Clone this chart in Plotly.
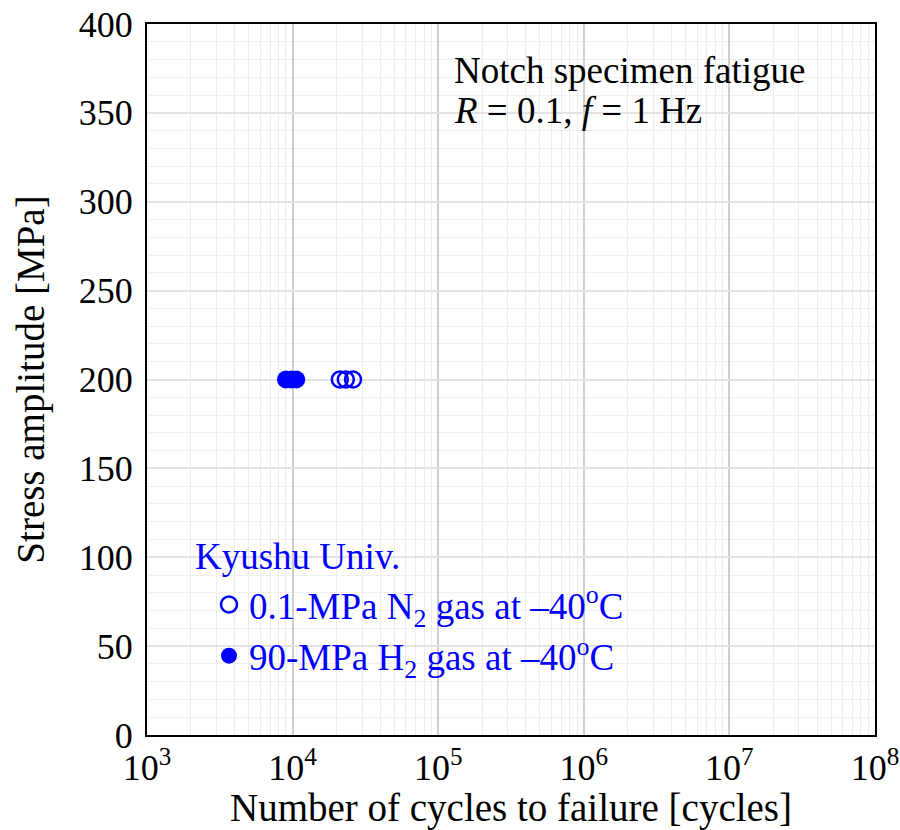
import plotly.graph_objects as go

# ---- data ----
n2_cycles = [21100, 23200, 26000]
n2_stress = [200, 200, 200]
h2_cycles = [9000, 9800, 10600]
h2_stress = [200, 200, 200]

n2_label = "0.1-MPa N<sub>2</sub> gas at –40<sup>o</sup>C"
h2_label = "90-MPa H<sub>2</sub> gas at –40<sup>o</sup>C"
legend_title = "Kyushu Univ."
x_tickvals = [1e3, 1e4, 1e5, 1e6, 1e7, 1e8]
x_ticktext = ["10<sup>3</sup>", "10<sup>4</sup>", "10<sup>5</sup>",
              "10<sup>6</sup>", "10<sup>7</sup>", "10<sup>8</sup>"]
y_tickvals = [0, 50, 100, 150, 200, 250, 300, 350, 400]

FONT = "Liberation Serif, Times New Roman, serif"
BLUE = "#0000ff"

L, R, T, B = 147, 875, 24, 735
PW, PH = R - L, B - T


def px(x):
    return (x - L) / PW


def py(y):
    return (B - y) / PH


fig = go.Figure()
fig.add_trace(go.Scatter(
    x=n2_cycles, y=n2_stress, mode="markers", name=n2_label,
    marker=dict(symbol="circle-open", size=16, color=BLUE,
                line=dict(width=2.5, color=BLUE)),
))
fig.add_trace(go.Scatter(
    x=h2_cycles, y=h2_stress, mode="markers", name=h2_label,
    marker=dict(symbol="circle", size=18, color=BLUE,
                line=dict(width=0, color=BLUE)),
))

# white boxes behind the annotation and legend (cover grid)
fig.add_shape(type="rect", xref="paper", yref="paper",
              x0=px(437), x1=px(843), y0=py(140), y1=py(40),
              fillcolor="white", line=dict(width=0), layer="between")
fig.add_shape(type="rect", xref="paper", yref="paper",
              x0=px(184), x1=px(663), y0=py(673), y1=py(523),
              fillcolor="white", line=dict(width=0), layer="between")

fig.add_annotation(text="Notch specimen fatigue", xref="paper", yref="paper",
                   x=px(452), y=py(93), xanchor="left", yanchor="bottom",
                   showarrow=False,
                   font=dict(family=FONT, size=37, color="black"))
fig.add_annotation(text="<i>R</i> = 0.1, <i>f</i> = 1 Hz", xref="paper", yref="paper",
                   x=px(452), y=py(133), xanchor="left", yanchor="bottom",
                   showarrow=False,
                   font=dict(family=FONT, size=37, color="black"))
fig.add_annotation(text=legend_title, xref="paper", yref="paper",
                   x=px(193), y=py(579), xanchor="left", yanchor="bottom",
                   showarrow=False,
                   font=dict(family=FONT, size=37, color=BLUE))

fig.update_layout(
    width=900, height=830,
    margin=dict(l=L, r=900 - R, t=T, b=830 - B, autoexpand=False),
    paper_bgcolor="white", plot_bgcolor="white",
    font=dict(family=FONT, size=36, color="black"),
    showlegend=True,
    legend=dict(
        font=dict(family=FONT, size=37, color=BLUE),
        bgcolor="rgba(0,0,0,0)",
        x=px(209), y=py(574),
        xanchor="left", yanchor="top",
        itemsizing="trace",
        tracegroupgap=0,
    ),
)

fig.update_xaxes(
    type="log", range=[3, 8], automargin=False,
    tickvals=x_tickvals, ticktext=x_ticktext,
    showgrid=True, gridcolor="#cfcfcf", gridwidth=2,
    minor=dict(dtick="D1", showgrid=True, gridcolor="#ececec", gridwidth=1, ticks=""),
    showline=True, linecolor="black", linewidth=2, mirror=True,
    ticks="", zeroline=False,
    tickfont=dict(family=FONT, size=36, color="black"),
    title=dict(text="Number of cycles to failure [cycles]",
               font=dict(family=FONT, size=39, color="black"), standoff=18),
)
fig.update_yaxes(
    range=[0, 400], tickvals=y_tickvals, automargin=False,
    showgrid=True, gridcolor="#e3e3e3", gridwidth=1.5,
    minor=dict(dtick=10, showgrid=True, gridcolor="#f0f0f0", gridwidth=1, ticks=""),
    showline=True, linecolor="black", linewidth=2, mirror=True,
    ticks="", zeroline=False, ticklabelstandoff=5,
    tickfont=dict(family=FONT, size=36, color="black"),
    title=dict(text="Stress amplitude [MPa]",
               font=dict(family=FONT, size=39, color="black"), standoff=22),
)

fig.write_html("out.html")
